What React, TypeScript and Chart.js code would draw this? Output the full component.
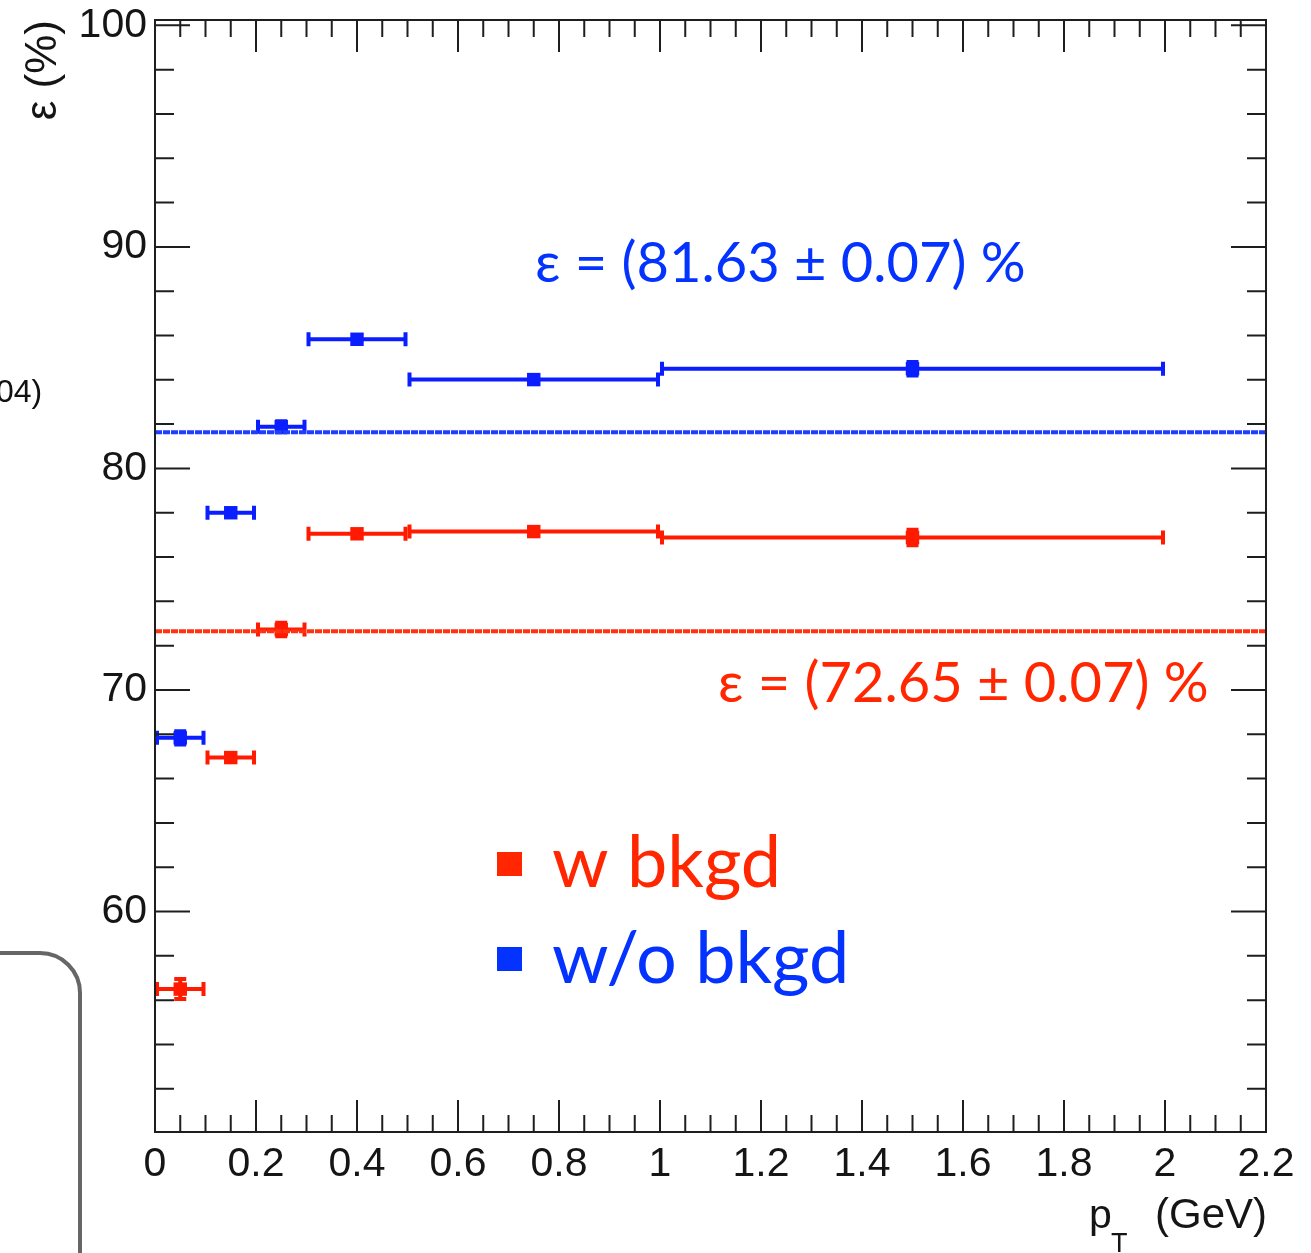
import React, { useEffect, useRef } from 'react';
import { Chart, registerables } from 'chart.js';

Chart.register(...registerables);

// ---- data ----
const binLow = [0, 0.1, 0.2, 0.3, 0.5, 1.0];
const binHigh = [0.1, 0.2, 0.3, 0.5, 1.0, 2.0];
const binCenter = [0.05, 0.15, 0.25, 0.4, 0.75, 1.5];
const effWithBkgd = [56.5, 66.95, 72.73, 77.05, 77.15, 76.88];
const errWithBkgd = [0.45, 0.2, 0.3, 0.15, 0.15, 0.35];
const effWithoutBkgd = [67.84, 78.0, 81.88, 85.83, 84.01, 84.5];
const errWithoutBkgd = [0.3, 0.15, 0.25, 0.15, 0.15, 0.3];
const fitRange = [0, 2.2];
const fitWithBkgd = 72.65;
const fitWithoutBkgd = 81.63;
const fitError = 0.07;
const seriesNames = ['w bkgd', 'w/o bkgd'];
const xTickLabels = ['0', '0.2', '0.4', '0.6', '0.8', '1', '1.2', '1.4', '1.6', '1.8', '2', '2.2'];
const yTickLabels = ['60', '70', '80', '90', '100'];
const xRange = [0, 2.2];
const yRange = [50.05, 100.24];
const xMinorStep = 0.05;
const yMinorStep = 2;

const RED = '#ff1a00';
const BLUE = '#0a1eff';
const RED_TEXT = '#ff2600';
const BLUE_TEXT = '#0433ff';
const AXIS_FONT = '"Liberation Sans", Arial, Helvetica, sans-serif';
const SLIDE_FONT = 'Lato, "Open Sans", sans-serif';

function makePoints(vals: number[], errs: number[]) {
  return vals.map((v, i) => ({ x: binCenter[i], y: v, xMin: binLow[i], xMax: binHigh[i], yErr: errs[i] }));
}

function labelFor(list: string[], value: number) {
  const found = list.find((l) => Math.abs(parseFloat(l) - value) < 1e-6);
  return found === undefined ? '' : found;
}

const errorBarPlugin = {
  id: 'errorBars',
  beforeDatasetsDraw(chart: any) {
    const ctx = chart.ctx;
    const xs = chart.scales.x;
    const ys = chart.scales.y;
    chart.data.datasets.forEach((ds: any) => {
      if (!ds.errorBars) return;
      ctx.save();
      ctx.strokeStyle = ds.borderColor;
      ctx.lineWidth = 4;
      ctx.lineCap = 'butt';
      ds.data.forEach((d: any) => {
        const x1 = xs.getPixelForValue(d.xMin);
        const x2 = xs.getPixelForValue(d.xMax);
        const xc = xs.getPixelForValue(d.x);
        const y = ys.getPixelForValue(d.y);
        const yt = ys.getPixelForValue(d.y + d.yErr);
        const yb = ys.getPixelForValue(d.y - d.yErr);
        ctx.beginPath();
        ctx.moveTo(x1, y);
        ctx.lineTo(x2, y);
        ctx.moveTo(x1 + 2, y - 7);
        ctx.lineTo(x1 + 2, y + 7);
        ctx.moveTo(x2 - 2, y - 7);
        ctx.lineTo(x2 - 2, y + 7);
        ctx.moveTo(xc, yt);
        ctx.lineTo(xc, yb);
        ctx.moveTo(xc - 6, yt);
        ctx.lineTo(xc + 6, yt);
        ctx.moveTo(xc - 6, yb);
        ctx.lineTo(xc + 6, yb);
        ctx.stroke();
      });
      ctx.restore();
    });
  },
};

const framePlugin = {
  id: 'frameAndText',
  afterDraw(chart: any) {
    const ctx = chart.ctx;
    const { left, right, top, bottom } = chart.chartArea;
    const xs = chart.scales.x;
    const ys = chart.scales.y;
    ctx.save();
    ctx.strokeStyle = '#1e1e1e';
    ctx.lineWidth = 2;
    ctx.strokeRect(left, top, right - left, bottom - top);
    ctx.beginPath();
    ys.ticks.forEach((t: any) => {
      const p = ys.getPixelForValue(t.value);
      const len = labelFor(yTickLabels, t.value) ? 35 : 19;
      ctx.moveTo(left, p);
      ctx.lineTo(left + len, p);
      ctx.moveTo(right, p);
      ctx.lineTo(right - len, p);
    });
    xs.ticks.forEach((t: any) => {
      const p = xs.getPixelForValue(t.value);
      const len = labelFor(xTickLabels, t.value) ? 32 : 17;
      ctx.moveTo(p, bottom);
      ctx.lineTo(p, bottom - len);
      ctx.moveTo(p, top);
      ctx.lineTo(p, top + len);
    });
    ctx.stroke();

    // y axis title
    ctx.save();
    ctx.translate(44, 20);
    ctx.rotate(-Math.PI / 2);
    ctx.font = `44px ${AXIS_FONT}`;
    ctx.textAlign = 'right';
    ctx.textBaseline = 'middle';
    ctx.fillStyle = '#151515';
    ctx.fillText('ε (%)', 0, 0);
    ctx.restore();

    // x axis title: p_T (GeV)
    ctx.fillStyle = '#151515';
    ctx.textBaseline = 'alphabetic';
    ctx.textAlign = 'left';
    ctx.font = `41px ${AXIS_FONT}`;
    ctx.fillText('p', 1089, 1228);
    ctx.font = `27px ${AXIS_FONT}`;
    ctx.fillText('T', 1111, 1252);
    ctx.font = `42px ${AXIS_FONT}`;
    ctx.textAlign = 'right';
    ctx.fillText('(GeV)', right + 1, 1228);
    ctx.textAlign = 'left';

    // fit annotations
    ctx.font = `56px ${SLIDE_FONT}`;
    ctx.fillStyle = BLUE_TEXT;
    ctx.fillText(`ε = (${fitWithoutBkgd.toFixed(2)} ± ${fitError.toFixed(2)}) %`, 535, 282);
    ctx.fillStyle = RED_TEXT;
    ctx.fillText(`ε = (${fitWithBkgd.toFixed(2)} ± ${fitError.toFixed(2)}) %`, 718, 702);

    // legend
    ctx.fillStyle = RED_TEXT;
    ctx.fillRect(497, 852, 25, 24);
    ctx.font = `72px ${SLIDE_FONT}`;
    ctx.fillText(seriesNames[0], 552, 887);
    ctx.fillStyle = BLUE_TEXT;
    ctx.fillRect(497, 947, 25, 24);
    ctx.fillText(seriesNames[1], 552, 983);

    // slide remnants on the left
    ctx.fillStyle = '#111';
    ctx.font = `32px ${AXIS_FONT}`;
    ctx.fillText('04)', -4, 402);
    ctx.strokeStyle = '#666';
    ctx.lineWidth = 4;
    ctx.beginPath();
    ctx.moveTo(-10, 953);
    ctx.lineTo(40, 953);
    ctx.arcTo(80, 953, 80, 993, 40);
    ctx.lineTo(80, 1260);
    ctx.stroke();
    ctx.restore();
  },
};

export default function App() {
  const canvasRef = useRef<HTMLCanvasElement | null>(null);

  useEffect(() => {
    document.body.style.margin = '0';
    const canvas = canvasRef.current;
    if (!canvas) return;

    const chart = new Chart(canvas, {
      type: 'scatter',
      data: {
        datasets: [
          {
            label: 'fit w/o bkgd',
            data: fitRange.map((x) => ({ x, y: fitWithoutBkgd })),
            showLine: true,
            borderColor: '#1f3dff',
            borderWidth: 4,
            borderDash: [7, 1],
            pointRadius: 0,
          },
          {
            label: 'fit w bkgd',
            data: fitRange.map((x) => ({ x, y: fitWithBkgd })),
            showLine: true,
            borderColor: '#ff3212',
            borderWidth: 4,
            borderDash: [7, 1],
            pointRadius: 0,
          },
          {
            label: seriesNames[1],
            data: makePoints(effWithoutBkgd, errWithoutBkgd),
            errorBars: true,
            borderColor: BLUE,
            backgroundColor: BLUE,
            pointStyle: 'rect',
            pointRadius: 9.5,
            borderWidth: 0,
          } as any,
          {
            label: seriesNames[0],
            data: makePoints(effWithBkgd, errWithBkgd),
            errorBars: true,
            borderColor: RED,
            backgroundColor: RED,
            pointStyle: 'rect',
            pointRadius: 9.5,
            borderWidth: 0,
          } as any,
        ],
      },
      options: {
        responsive: false,
        maintainAspectRatio: false,
        animation: false,
        events: [],
        layout: { padding: { left: 0, right: 45, top: 20, bottom: 0 } },
        plugins: { legend: { display: false }, tooltip: { enabled: false } },
        scales: {
          x: {
            type: 'linear',
            min: xRange[0],
            max: xRange[1],
            grid: { display: false, drawTicks: false },
            border: { display: false },
            afterBuildTicks: (scale: any) => {
              const n = Math.round((xRange[1] - xRange[0]) / xMinorStep);
              const ticks = [];
              for (let i = 0; i <= n; i++) ticks.push({ value: +(xRange[0] + i * xMinorStep).toFixed(4) });
              scale.ticks = ticks;
            },
            afterFit: (scale: any) => {
              scale.height = 121;
              scale.paddingLeft = 0;
              scale.paddingRight = 0;
            },
            ticks: {
              autoSkip: false,
              maxRotation: 0,
              minRotation: 0,
              padding: 8,
              color: '#151515',
              font: { family: AXIS_FONT, size: 41 },
              callback: (v: any) => labelFor(xTickLabels, Number(v)),
            },
          },
          y: {
            type: 'linear',
            min: yRange[0],
            max: yRange[1],
            grid: { display: false, drawTicks: false },
            border: { display: false },
            afterBuildTicks: (scale: any) => {
              const ticks = [];
              for (let v = Math.ceil(yRange[0] / yMinorStep) * yMinorStep; v <= yRange[1]; v += yMinorStep) ticks.push({ value: v });
              scale.ticks = ticks;
            },
            afterFit: (scale: any) => {
              scale.width = 155;
              scale.paddingTop = 0;
              scale.paddingBottom = 0;
            },
            ticks: {
              autoSkip: false,
              padding: 8,
              color: '#151515',
              font: { family: AXIS_FONT, size: 41 },
              callback: (v: any) => labelFor(yTickLabels, Number(v)),
            },
          },
        },
      } as any,
      plugins: [errorBarPlugin, framePlugin],
    });

    return () => chart.destroy();
  }, []);

  return (
    <div style={{ position: 'relative', width: 1311, height: 1253, overflow: 'hidden', background: '#fff' }}>
      <canvas ref={canvasRef} width={1311} height={1253} style={{ display: 'block' }} />
    </div>
  );
}
